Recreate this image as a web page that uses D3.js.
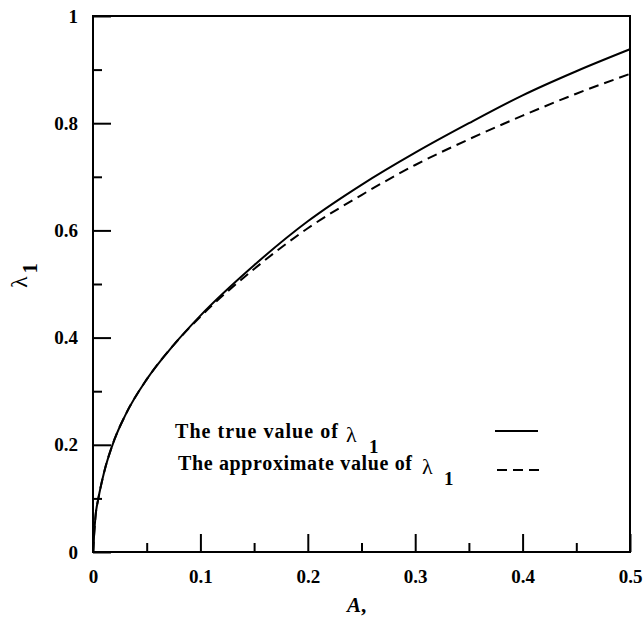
<!DOCTYPE html>
<html>
<head>
<meta charset="utf-8">
<script src="https://cdn.jsdelivr.net/npm/d3@7"></script>
<style>
  html, body { margin: 0; padding: 0; background: #fff; }
  svg { display: block; }
</style>
</head>
<body>
<div id="chart"></div>
<script>
// values
const aValues = [0, 0.0025, 0.005, 0.01, 0.02, 0.03, 0.05, 0.075, 0.1, 0.15, 0.2, 0.25, 0.3, 0.35, 0.4, 0.45, 0.5];
const trueLambda = [0, 0.070, 0.100, 0.146, 0.210, 0.255, 0.322, 0.386, 0.441, 0.535, 0.617, 0.685, 0.745, 0.800, 0.852, 0.897, 0.938];
const approxLambda = [0, 0.070, 0.100, 0.146, 0.210, 0.255, 0.322, 0.386, 0.439, 0.528, 0.604, 0.666, 0.722, 0.770, 0.814, 0.855, 0.892];

const xMajor = [0, 0.1, 0.2, 0.3, 0.4, 0.5];
const xMinor = [0.05, 0.15, 0.25, 0.35, 0.45];
const yMajor = [0, 0.2, 0.4, 0.6, 0.8, 1];
const yMinor = [0.1, 0.3, 0.5, 0.7, 0.9];

const legendLabels = ['The true value of', 'The approximate value of'];

const width = 644, height = 620;
const plotL = 93, plotR = 630, plotT = 16, plotB = 552;
const serif = '"Liberation Serif", "Times New Roman", serif';

const svg = d3.select('#chart').append('svg')
  .attr('width', width)
  .attr('height', height);

const x = d3.scaleLinear().domain([0, 0.5]).range([plotL, plotR]);
const y = d3.scaleLinear().domain([0, 1]).range([plotB, plotT]);

// frame
svg.append('rect')
  .attr('x', plotL).attr('y', plotT)
  .attr('width', plotR - plotL).attr('height', plotB - plotT)
  .attr('fill', 'none').attr('stroke', '#000').attr('stroke-width', 2);

// ticks point inward
const fmt = (d) => d === 0 ? '0' : d === 1 ? '1' : d3.format('.1f')(d);
const xAxisMajor = d3.axisBottom(x).tickValues(xMajor).tickSize(-18).tickFormat(fmt).tickPadding(18);
const xAxisMinor = d3.axisBottom(x).tickValues(xMinor).tickSize(-9).tickFormat('');
const yAxisMajor = d3.axisLeft(y).tickValues(yMajor).tickSize(-18).tickFormat(fmt).tickPadding(15);
const yAxisMinor = d3.axisLeft(y).tickValues(yMinor).tickSize(-9).tickFormat('');

function styleAxis(g) {
  g.select('.domain').remove();
  g.attr('font-family', serif).attr('font-size', 19).attr('font-weight', 'bold');
  g.selectAll('.tick line').attr('stroke', '#000').attr('stroke-width', 2);
  g.selectAll('.tick text').attr('fill', '#000');
}

svg.append('g').attr('transform', `translate(0,${plotB})`).call(xAxisMinor).call(styleAxis);
svg.append('g').attr('transform', `translate(0,${plotB})`).call(xAxisMajor).call(styleAxis);
svg.append('g').attr('transform', `translate(${plotL},0)`).call(yAxisMinor).call(styleAxis);
svg.append('g').attr('transform', `translate(${plotL},0)`).call(yAxisMajor).call(styleAxis);

// curves
const series = [
  { values: trueLambda, dash: null },
  { values: approxLambda, dash: '10,6' }
];
const line = d3.line()
  .x((d) => x(d[0]))
  .y((d) => y(d[1]))
  .curve(d3.curveMonotoneX);

series.forEach((s) => {
  svg.append('path')
    .datum(aValues.map((a, i) => [a, s.values[i]]))
    .attr('d', line)
    .attr('fill', 'none')
    .attr('stroke', '#000')
    .attr('stroke-width', 2)
    .attr('stroke-dasharray', s.dash);
});

// legend
const legendRows = [
  { tx: 175, ty: 438, tw: 163, lx: 346, sx: 369, x1: 495, x2: 538, ly: 431 },
  { tx: 178, ty: 470, tw: 234, lx: 422, sx: 444, x1: 497, x2: 541, ly: 470 }
];
legendRows.forEach((r, i) => {
  svg.append('text')
    .attr('x', r.tx).attr('y', r.ty)
    .attr('font-family', serif).attr('font-weight', 'bold').attr('font-size', 20)
    .attr('textLength', r.tw).attr('lengthAdjust', 'spacing')
    .text(legendLabels[i]);
  svg.append('text')
    .attr('x', r.lx).attr('y', r.ty + 4)
    .attr('font-family', serif).attr('font-size', 22)
    .text('λ');
  svg.append('text')
    .attr('x', r.sx).attr('y', r.ty + 15)
    .attr('font-family', serif).attr('font-weight', 'bold').attr('font-size', 19)
    .text('1');
  svg.append('line')
    .attr('x1', r.x1).attr('x2', r.x2)
    .attr('y1', r.ly).attr('y2', r.ly)
    .attr('stroke', '#000').attr('stroke-width', 2)
    .attr('stroke-dasharray', series[i].dash);
});

// axis titles
const xt = svg.append('text')
  .attr('x', 347).attr('y', 612)
  .attr('font-family', serif)
  .attr('font-weight', 'bold').attr('font-size', 21);
xt.append('tspan').attr('font-style', 'italic').text('A');
xt.append('tspan').text(',');

const yt = svg.append('text')
  .attr('transform', 'translate(27,288) rotate(-90)')
  .attr('font-family', serif)
  .attr('font-size', 24);
yt.append('tspan').text('λ');
yt.append('tspan').attr('font-weight', 'bold').attr('font-size', 20).attr('dx', 3).attr('dy', 10).text('1');
</script>
</body>
</html>
